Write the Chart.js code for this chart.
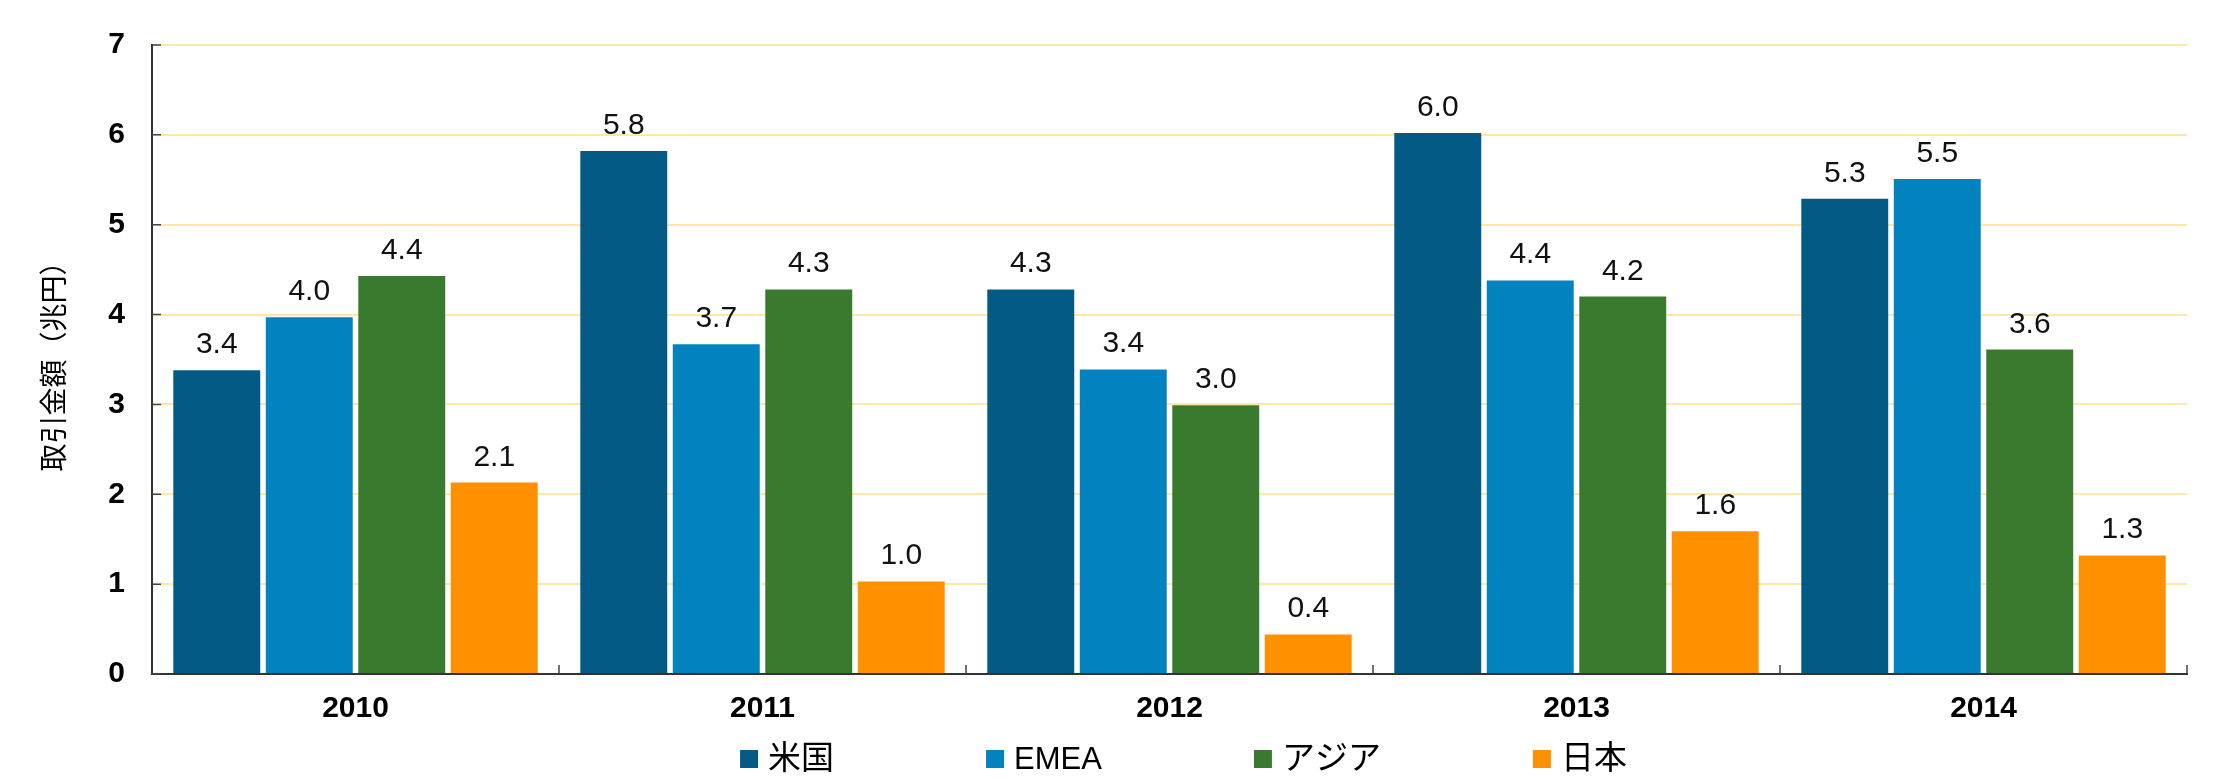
<!DOCTYPE html>
<html>
<head>
<meta charset="utf-8">
<script src="https://cdn.jsdelivr.net/npm/chart.js@4.4.1/dist/chart.umd.min.js"></script>
<style>
  html, body { margin: 0; padding: 0; background: #ffffff; }
  #wrap { width: 2218px; height: 780px; position: relative; }
</style>
</head>
<body>
<div id="wrap"><canvas id="c" width="2218" height="780"></canvas></div>
<script>
// ---- data ----
const years = ['2010', '2011', '2012', '2013', '2014'];
const seriesNames = ['米国', 'EMEA', 'アジア', '日本'];
const usValues    = [3.38, 5.82, 4.28, 6.02, 5.29];
const emeaValues  = [3.97, 3.67, 3.39, 4.38, 5.51];
const asiaValues  = [4.43, 4.28, 2.99, 4.20, 3.61];
const japanValues = [2.13, 1.03, 0.44, 1.59, 1.32];
const yTicks = [0, 1, 2, 3, 4, 5, 6, 7];
const yTitle = '取引金額（兆円）';

const colors = ['#035A84', '#0283C0', '#3A7A2E', '#FF9000'];
const LATIN = '"Liberation Sans", Arial, "Noto Sans CJK JP", sans-serif';
const CJK = '"Liberation Sans", "Noto Sans CJK JP", sans-serif';

const allValues = [usValues, emeaValues, asiaValues, japanValues];

// draws value labels above bars from the bar elements
const valueLabels = {
  id: 'valueLabels',
  afterDatasetsDraw(chart) {
    const ctx = chart.ctx;
    ctx.save();
    ctx.font = '30px ' + LATIN;
    ctx.fillStyle = '#111111';
    ctx.textAlign = 'center';
    ctx.textBaseline = 'alphabetic';
    chart.data.datasets.forEach((ds, di) => {
      const meta = chart.getDatasetMeta(di);
      meta.data.forEach((bar, i) => {
        ctx.fillText(ds.data[i].toFixed(1), bar.x, bar.y - 17);
      });
    });
    ctx.restore();
  }
};

// small inward tick marks like the original
const innerTicks = {
  id: 'innerTicks',
  afterDatasetsDraw(chart) {
    const ctx = chart.ctx;
    const x = chart.scales.x, y = chart.scales.y;
    const a = chart.chartArea;
    ctx.save();
    ctx.strokeStyle = '#444444';
    ctx.lineWidth = 1.5;
    ctx.beginPath();
    y.ticks.forEach(t => {
      const py = y.getPixelForValue(t.value);
      ctx.moveTo(a.left, py); ctx.lineTo(a.left + 9, py);
    });
    for (let i = 0; i < years.length; i++) {
      const px = (i < years.length - 1)
        ? (x.getPixelForValue(i) + x.getPixelForValue(i + 1)) / 2
        : a.right;
      ctx.moveTo(px, a.bottom); ctx.lineTo(px, a.bottom - 9);
    }
    ctx.stroke();
    ctx.restore();
  }
};

// legend drawn with wider spacing than Chart.js' built-in legend allows
const spacedLegend = {
  id: 'spacedLegend',
  afterDraw(chart) {
    const ctx = chart.ctx;
    const a = chart.chartArea;
    const box = 18, gapText = 10, gapItem = 152;
    ctx.save();
    const fontFor = t => (/^[\x00-\x7F]*$/.test(t) ? '31px ' : '33px ') + CJK;
    const items = chart.data.datasets.map(ds => {
      ctx.font = fontFor(ds.label);
      return { text: ds.label, color: ds.backgroundColor, font: ctx.font, w: ctx.measureText(ds.label).width };
    });
    const total = items.reduce((s, it) => s + box + gapText + it.w, 0) + gapItem * (items.length - 1);
    let cx = (a.left + a.right) / 2 - total / 2 + 14;
    const cy = chart.height - 21;
    ctx.textBaseline = 'middle';
    ctx.textAlign = 'left';
    items.forEach(it => {
      ctx.fillStyle = it.color;
      ctx.fillRect(cx, cy - box / 2, box, box);
      ctx.fillStyle = '#000000';
      ctx.font = it.font;
      ctx.fillText(it.text, cx + box + gapText, cy + 1);
      cx += box + gapText + it.w + gapItem;
    });
    ctx.restore();
  }
};

new Chart(document.getElementById('c'), {
  type: 'bar',
  data: {
    labels: years,
    datasets: seriesNames.map((name, i) => ({
      label: name,
      data: allValues[i],
      backgroundColor: colors[i],
      borderWidth: 0,
      categoryPercentage: 0.909,
      barPercentage: 0.94
    }))
  },
  options: {
    responsive: false,
    animation: false,
    devicePixelRatio: 1,
    layout: { padding: { left: 0, top: 41, right: 31, bottom: 50 } },
    plugins: {
      legend: { display: false },
      tooltip: { enabled: false },
      title: { display: false }
    },
    scales: {
      x: {
        offset: true,
        grid: { display: false, drawTicks: false },
        border: { display: true, color: '#333333', width: 2 },
        ticks: {
          color: '#000000',
          font: { family: LATIN, size: 30, weight: 'bold' },
          padding: 17,
          maxRotation: 0
        },
        afterFit(scale) { scale.height = 56; }
      },
      y: {
        min: 0,
        max: 7,
        afterBuildTicks(scale) { scale.ticks = yTicks.map(v => ({ value: v })); },
        grid: { color: '#FFE7A6', lineWidth: 2, drawTicks: false },
        border: { display: true, color: '#333333', width: 2 },
        ticks: {
          color: '#000000',
          font: { family: LATIN, size: 30, weight: 'bold' },
          padding: 27
        },
        title: {
          display: true,
          text: yTitle,
          color: '#000000',
          font: { family: CJK, size: 28, weight: 'normal' },
          padding: { top: 39, bottom: 0 }
        },
        afterFit(scale) { scale.width = 152; }
      }
    }
  },
  plugins: [valueLabels, innerTicks, spacedLegend]
});
</script>
</body>
</html>
